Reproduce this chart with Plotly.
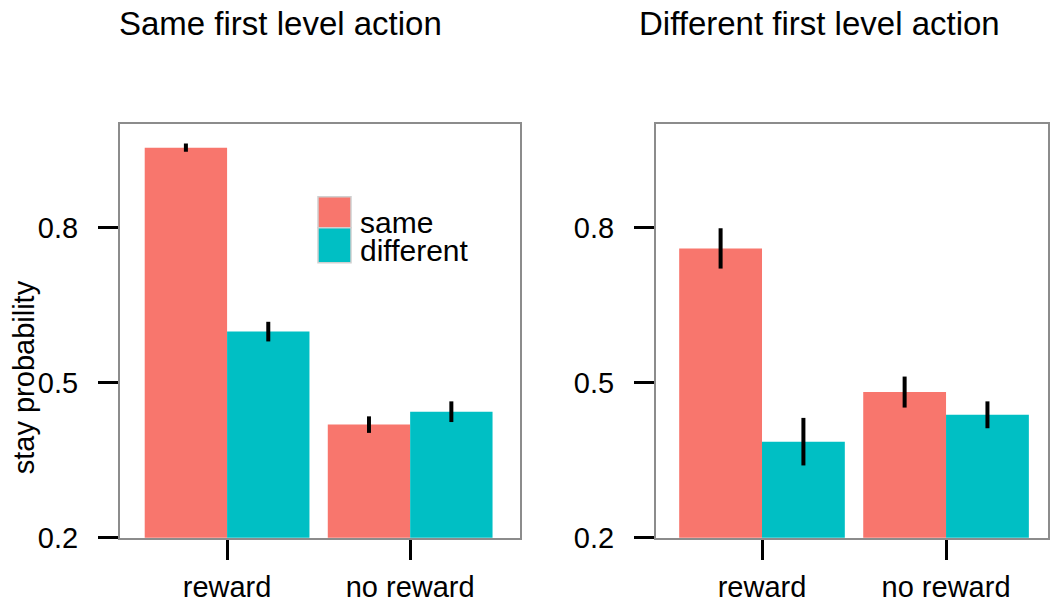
import plotly.graph_objects as go

# ---- data ----
categories = ["reward", "no reward"]
series_names = ["same", "different"]

same_first_same = [0.955, 0.419]
same_first_diff = [0.599, 0.444]
same_first_same_err = [0.008, 0.016]
same_first_diff_err = [0.019, 0.020]

diff_first_same = [0.760, 0.482]
diff_first_diff = [0.386, 0.438]
diff_first_same_err = [0.039, 0.030]
diff_first_diff_err = [0.046, 0.026]

panel_titles = ["Same first level action", "Different first level action"]
y_tickvals = [0.2, 0.5, 0.8]
y_ticktext = ["0.2", "0.5", "0.8"]
y_title = "stay probability"

RED = "#F8766D"
CYAN = "#00BFC4"
FONT = "Liberation Sans, Arial, sans-serif"
W = 1050
REF_H = 602          # layout positions are given in reference pixels
H = 620              # figure height

def py(p):
    """reference pixel (from top) -> paper fraction"""
    return 1 - p / REF_H

fig = go.Figure()

def add_bars(vals, errs, color, name, xa, ya):
    fig.add_trace(go.Bar(
        x=categories, y=vals, name=name, marker=dict(color=color, line=dict(width=0)),
        error_y=dict(type="data", array=errs, thickness=4, width=0, color="black"),
        xaxis=xa, yaxis=ya, showlegend=False,
    ))

add_bars(same_first_same, same_first_same_err, RED, series_names[0], "x", "y")
add_bars(same_first_diff, same_first_diff_err, CYAN, series_names[1], "x", "y")
add_bars(diff_first_same, diff_first_same_err, RED, series_names[0], "x2", "y2")
add_bars(diff_first_diff, diff_first_diff_err, CYAN, series_names[1], "x2", "y2")

ydom = [py(536), py(124)]
common_x = dict(
    showline=True, mirror=True, linecolor="#8c8c8c", linewidth=2,
    ticks="outside", ticklen=20, tickwidth=3, tickcolor="black",
    showgrid=False, zeroline=False, ticklabelstandoff=2,
    tickfont=dict(family=FONT, size=29, color="black"),
)
common_y = dict(
    showline=True, mirror=True, linecolor="#8c8c8c", linewidth=2,
    ticks="outside", ticklen=20, tickwidth=3, tickcolor="black",
    showgrid=False, zeroline=False, range=[0.2, 1.0],
    tickvals=y_tickvals, ticktext=y_ticktext, ticklabelstandoff=14,
    tickfont=dict(family=FONT, size=29, color="black"), domain=ydom,
)

fig.update_layout(
    width=W, height=H, autosize=False,
    margin=dict(l=0, r=0, t=0, b=0),
    paper_bgcolor="white", plot_bgcolor="white",
    barmode="group", bargap=0.1, bargroupgap=0,
    showlegend=False,
    xaxis=dict(common_x, domain=[120 / W, 520 / W], range=[-0.585, 1.6], anchor="y"),
    yaxis=dict(common_y, anchor="x"),
    xaxis2=dict(common_x, domain=[656 / W, 1048 / W], range=[-0.576, 1.554], anchor="y2"),
    yaxis2=dict(common_y, anchor="x2"),
)

# panel titles
for cx, t in zip([280, 819], panel_titles):
    fig.add_annotation(text=t, xref="paper", yref="paper", x=cx / W, y=py(23),
                       xanchor="center", yanchor="middle", showarrow=False,
                       font=dict(family=FONT, size=33, color="black"))

# y axis title
fig.add_annotation(text=y_title, xref="paper", yref="paper", x=24 / W, y=py(376),
                   xanchor="center", yanchor="middle", showarrow=False, textangle=-90,
                   font=dict(family=FONT, size=29, color="black"))

# legend (drawn manually inside left panel)
legend_boxes = [(196, 227), (227, 262)]
legend_text_y = [222, 250]
for (top, bot), color, name, ty in zip(legend_boxes, [RED, CYAN], series_names, legend_text_y):
    fig.add_shape(type="rect", xref="paper", yref="paper",
                  x0=318 / W, x1=351 / W, y0=py(bot), y1=py(top),
                  fillcolor=color, line=dict(color="#d0d0d0", width=1.5))
    fig.add_annotation(text=name, xref="paper", yref="paper", x=358 / W, y=py(ty),
                       xanchor="left", yanchor="middle", showarrow=False,
                       font=dict(family=FONT, size=30, color="black"))

fig.write_html("out.html", config={"displayModeBar": False},
               post_script="document.body.style.margin='0';document.body.style.overflow='hidden';")
